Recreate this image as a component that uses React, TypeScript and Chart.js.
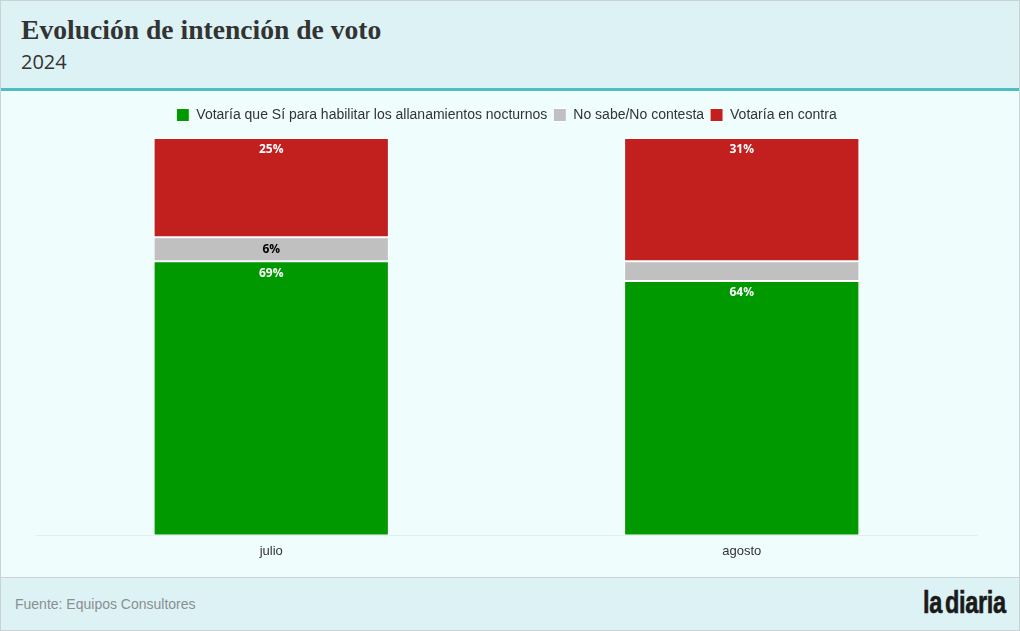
import React, { useEffect, useRef } from "react";
import { Chart, registerables } from "chart.js";

Chart.register(...registerables);

const categories = ["julio", "agosto"];
const seriesNames = [
  "Votaría que Sí para habilitar los allanamientos nocturnos",
  "No sabe/No contesta",
  "Votaría en contra",
];
const siValues = [69, 64];
const nsncValues = [6, 5];
const contraValues = [25, 31];
const seriesColors = ["#009900", "#c0c0c0", "#c21f1f"];
const labelColors = ["#ffffff", "#000000", "#ffffff"];

const labelPlugin = {
  id: "segLabels",
  afterDatasetsDraw(chart: any) {
    const ctx = chart.ctx;
    ctx.save();
    ctx.font = "bold 12px 'Open Sans', sans-serif";
    ctx.textAlign = "center";
    ctx.textBaseline = "middle";
    chart.data.datasets.forEach((ds: any, di: number) => {
      const meta = chart.getDatasetMeta(di);
      meta.data.forEach((bar: any, i: number) => {
        const v = ds.data[i];
        if (v < 6) return;
        const { x, y } = bar.getProps(["x", "y"], true);
        ctx.fillStyle = labelColors[di];
        ctx.fillText(v + "%", x, y + 12);
      });
    });
    ctx.restore();
  },
};

const legendGapPlugin = {
  id: "legendGap",
  beforeInit(chart: any) {
    const legend = chart.legend;
    if (!legend) return;
    const origFit = legend.fit;
    legend.fit = function () {
      origFit.bind(legend)();
      this.height += 6;
    };
  },
};

export default function App() {
  const ref = useRef<HTMLCanvasElement>(null);
  useEffect(() => {
    document.body.style.margin = "0";
    const chart = new Chart(ref.current!, {
      type: "bar",
      data: {
        labels: categories,
        datasets: [siValues, nsncValues, contraValues].map((d, i) => ({
          label: seriesNames[i],
          data: d,
          backgroundColor: seriesColors[i],
          borderColor: "#ffffff",
          borderWidth: 1,
          borderSkipped: false,
          barPercentage: 0.5,
          categoryPercentage: 1,
        })),
      },
      options: {
        animation: false,
        responsive: true,
        maintainAspectRatio: false,
        layout: { padding: { top: 11, left: 35, right: 42, bottom: 10 } },
        plugins: {
          legend: {
            position: "top",
            labels: {
              boxWidth: 13,
              boxHeight: 13,
              padding: 6,
              color: "#333",
              font: { family: "'Liberation Sans', Arial, sans-serif", size: 14 },
            },
          },
          tooltip: { enabled: false },
        },
        scales: {
          x: {
            stacked: true,
            grid: { display: false, drawTicks: false },
            border: { color: "#e6ecec" },
            ticks: {
              color: "#333",
              padding: 8,
              font: { family: "'Liberation Sans', Arial, sans-serif", size: 13 },
            },
          },
          y: {
            stacked: true,
            min: 0,
            max: 100,
            display: false,
          },
        },
      },
      plugins: [legendGapPlugin, labelPlugin],
    });
    return () => chart.destroy();
  }, []);

  return (
    <div
      style={{
        position: "relative",
        width: 1020,
        height: 631,
        boxSizing: "border-box",
        border: "1px solid #c9d2d4",
        background: "#effdfd",
        overflow: "hidden",
      }}
    >
      <div
        style={{
          position: "absolute",
          left: 0,
          top: 0,
          width: 1018,
          height: 87,
          background: "#dcf2f4",
          borderBottom: "3px solid #4fbdc3",
        }}
      >
        <div
          style={{
            position: "absolute",
            left: 20,
            top: 13,
            fontFamily: "'Liberation Serif', serif",
            fontWeight: "bold",
            fontSize: 27.6,
            color: "#333",
            whiteSpace: "nowrap",
          }}
        >
          Evolución de intención de voto
        </div>
        <div
          style={{
            position: "absolute",
            left: 20,
            top: 47,
            fontFamily: "'Open Sans', sans-serif",
            fontSize: 20,
            color: "#333",
          }}
        >
          2024
        </div>
      </div>
      <div style={{ position: "absolute", left: 0, top: 90, width: 1018, height: 486 }}>
        <canvas ref={ref} />
      </div>
      <div
        style={{
          position: "absolute",
          left: 0,
          top: 576,
          width: 1018,
          height: 53,
          background: "#dcf2f4",
          borderTop: "1px solid #c9d2d4",
        }}
      >
        <div
          style={{
            position: "absolute",
            left: 14,
            top: 18,
            fontFamily: "'Liberation Sans', Arial, sans-serif",
            fontSize: 14,
            color: "#8a8f91",
          }}
        >
          Fuente: Equipos Consultores
        </div>
        <div
          style={{
            position: "absolute",
            right: 13,
            top: 7,
            fontFamily: "'Liberation Sans', sans-serif",
            fontWeight: "bold",
            fontSize: 31,
            letterSpacing: -0.5,
            wordSpacing: -4,
            color: "#1a1a1a",
            transform: "scaleX(0.76)",
            transformOrigin: "right center",
            whiteSpace: "nowrap",
            WebkitTextStroke: "0.6px #1a1a1a",
          }}
        >
          la diaria
        </div>
      </div>
    </div>
  );
}
